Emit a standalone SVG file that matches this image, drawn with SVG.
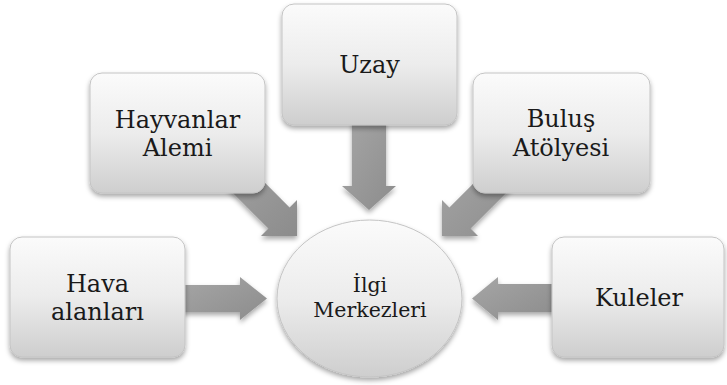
<svg xmlns="http://www.w3.org/2000/svg" width="727" height="385" viewBox="0 0 727 385">
  <defs>
    <linearGradient id="boxGrad" x1="0" y1="0" x2="0" y2="1">
      <stop offset="0" stop-color="#fbfbfb"/>
      <stop offset="0.5" stop-color="#ececec"/>
      <stop offset="1" stop-color="#cecece"/>
    </linearGradient>
    <linearGradient id="arrowGrad" x1="0" y1="0" x2="1" y2="1">
      <stop offset="0" stop-color="#a6a6a6"/>
      <stop offset="1" stop-color="#8c8c8c"/>
    </linearGradient>
    <filter id="shadow" x="-20%" y="-20%" width="140%" height="150%">
      <feDropShadow dx="0" dy="3" stdDeviation="2.5" flood-color="#000" flood-opacity="0.35"/>
    </filter>
  </defs>
  <style>
    .box { fill: url(#boxGrad); stroke: #c4c4c4; stroke-width: 1; filter: url(#shadow); }
    .arrow { fill: url(#arrowGrad); filter: url(#shadow); }
    text { font-family: 'DejaVu Serif', serif; fill: #1a1a1a; text-anchor: middle; }
    .lbl { font-size: 24px; }
    .clbl { font-size: 20.5px; }
  </style>
  <rect width="727" height="385" fill="#ffffff"/>

  <g id="connectors">
    <polygon class="arrow" points="180,285 240,285 240,277 267,298.5 240,320 240,312 180,312"/>
    <polygon class="arrow" points="556,284 498,284 498,277 472,298.5 498,320 498,312 556,312"/>
    <polygon class="arrow" points="352,120 386,120 386,186 396,186 369,210 342,186 352,186"/>
    <polygon class="arrow" points="208.4,168.6 268.4,228.6 261,236 297,236 297,200 289.6,207.4 229.6,147.4"/>
    <polygon class="arrow" points="530.6,168.6 470.6,228.6 478,236 442,236 442,200 449.4,207.4 509.4,147.4"/>
  </g>

  <g id="node-hava">
    <rect class="box" x="10" y="237" width="175" height="120" rx="12"/>
    <text class="lbl" x="97.5" y="292">Hava</text>
    <text class="lbl" x="97.5" y="320">alanları</text>
  </g>

  <g id="node-hayvanlar">
    <rect class="box" x="90" y="73" width="175" height="120" rx="12"/>
    <text class="lbl" x="177.5" y="128">Hayvanlar</text>
    <text class="lbl" x="177.5" y="156">Alemi</text>
  </g>

  <g id="node-uzay">
    <rect class="box" x="282" y="4" width="175" height="121" rx="12"/>
    <text class="lbl" x="369.5" y="73">Uzay</text>
  </g>

  <g id="node-bulus">
    <rect class="box" x="473" y="73" width="177" height="120" rx="12"/>
    <text class="lbl" x="561" y="127">Buluş</text>
    <text class="lbl" x="561" y="156">Atölyesi</text>
  </g>

  <g id="node-kuleler">
    <rect class="box" x="552" y="237" width="172" height="120" rx="12"/>
    <text class="lbl" x="639" y="306">Kuleler</text>
  </g>

  <g id="node-center">
    <ellipse class="box" cx="369.5" cy="298.5" rx="92.5" ry="78.5"/>
    <text class="clbl" x="370" y="292">İlgi</text>
    <text class="clbl" x="370" y="317">Merkezleri</text>
  </g>
</svg>
